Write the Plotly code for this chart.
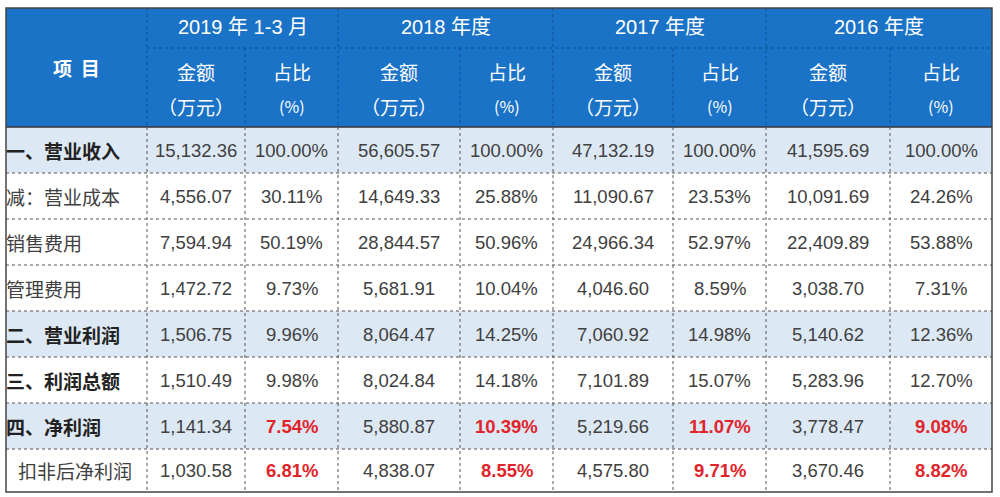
import plotly.graph_objects as go

periods = ["2019 年 1-3 月", "2018 年度", "2017 年度", "2016 年度"]
items = ["一、营业收入", "减：营业成本", "销售费用", "管理费用", "二、营业利润", "三、利润总额", "四、净利润", "扣非后净利润"]
amt_2019q1 = ["15,132.36", "4,556.07", "7,594.94", "1,472.72", "1,506.75", "1,510.49", "1,141.34", "1,030.58"]
pct_2019q1 = ["100.00%", "30.11%", "50.19%", "9.73%", "9.96%", "9.98%", "7.54%", "6.81%"]
amt_2018 = ["56,605.57", "14,649.33", "28,844.57", "5,681.91", "8,064.47", "8,024.84", "5,880.87", "4,838.07"]
pct_2018 = ["100.00%", "25.88%", "50.96%", "10.04%", "14.25%", "14.18%", "10.39%", "8.55%"]
amt_2017 = ["47,132.19", "11,090.67", "24,966.34", "4,046.60", "7,060.92", "7,101.89", "5,219.66", "4,575.80"]
pct_2017 = ["100.00%", "23.53%", "52.97%", "8.59%", "14.98%", "15.07%", "11.07%", "9.71%"]
amt_2016 = ["41,595.69", "10,091.69", "22,409.89", "3,038.70", "5,140.62", "5,283.96", "3,778.47", "3,670.46"]
pct_2016 = ["100.00%", "24.26%", "53.88%", "7.31%", "12.36%", "12.70%", "9.08%", "8.82%"]
bold_rows = [0, 4, 5, 6]
shaded_rows = [0, 4, 6]
red_rows = [6, 7]

# layout (pixels)
col_x = [6, 147, 245, 338, 460, 553, 673, 766, 890, 992]
head_y = [8, 48, 127]
row_h = 46
row_y = [head_y[2] + i * row_h for i in range(len(items) + 1)]
row_y[-1] = 492

BLUE = "#1b73c7"
SHADE = "#dde8f5"
TXT = "#404040"
CJK = "Noto Sans CJK SC"
NUM = "Liberation Sans"

columns = [amt_2019q1, pct_2019q1, amt_2018, pct_2018, amt_2017, pct_2017, amt_2016, pct_2016]

fig = go.Figure()
shapes, ann = [], []

def rect(x0, x1, y0, y1, color):
    shapes.append(dict(type="rect", x0=x0, x1=x1, y0=y0, y1=y1, fillcolor=color, line_width=0, layer="below"))

def line(x0, y0, x1, y1, color, dash="dot", w=1):
    shapes.append(dict(type="line", x0=x0, y0=y0, x1=x1, y1=y1, line=dict(color=color, width=w, dash=dash)))

def text(x, y, s, size=18, color=TXT, bold=False, family=NUM):
    if bold:
        s = "<b>" + s + "</b>"
    ann.append(dict(x=x, y=y, text=s, showarrow=False, font=dict(size=size, color=color, family=family + ", " + CJK)))

# header
rect(col_x[0], col_x[-1], head_y[0], head_y[2], BLUE)
for i in shaded_rows:
    rect(col_x[0], col_x[-1], row_y[i], row_y[i + 1], SHADE)

text((col_x[0] + col_x[1]) / 2, 67, "项  目", 19, "white", True, CJK)
for k, p in enumerate(periods):
    xa, xb, xc = col_x[1 + 2 * k], col_x[2 + 2 * k], col_x[3 + 2 * k]
    text((xa + xc) / 2, 27, p, 20, "white", False, "Liberation Sans")
    text((xa + xb) / 2, 71, "金额", 19, "white", False, CJK)
    text((xa + xb) / 2, 106, "（万元）", 19, "white", False, CJK)
    text((xb + xc) / 2, 71, "占比", 19, "white", False, CJK)
    text((xb + xc) / 2, 106, "(%)", 16, "white", False, CJK)

# body
for i, name in enumerate(items):
    yc = (row_y[i] + row_y[i + 1]) / 2
    ann.append(dict(x=col_x[0] - 2 if i != 7 else col_x[0] + 10, y=yc, xanchor="left", showarrow=False,
                    text=("<b>%s</b>" % name) if i in bold_rows else name,
                    font=dict(size=19, color="#222222" if i in bold_rows else TXT, family=CJK)))
    for c, col in enumerate(columns):
        xc = (col_x[1 + c] + col_x[2 + c]) / 2
        red = (c % 2 == 1) and i in red_rows
        text(xc, yc, col[i], 18.5, "#e0242a" if red else TXT, red)

# grid lines
for y in row_y[1:-1]:
    line(col_x[0], y, col_x[-1], y, "#555555")
line(col_x[0], head_y[2], col_x[-1], head_y[2], "#333333", "solid", 1.5)
line(col_x[1], head_y[1], col_x[-1], head_y[1], "#0d4f8f")
for j, x in enumerate(col_x[1:-1]):
    top = head_y[0] if j % 2 == 0 else head_y[1]
    line(x, top, x, head_y[2], "#0d4f8f")
    line(x, head_y[2], x, row_y[-1], "#555555")
shapes.append(dict(type="rect", x0=col_x[0], x1=col_x[-1], y0=head_y[0], y1=row_y[-1],
                   line=dict(color="#444444", width=1.5)))

fig.update_layout(
    width=1000, height=497, margin=dict(l=0, r=0, t=0, b=0),
    paper_bgcolor="white", plot_bgcolor="white",
    xaxis=dict(range=[0, 1000], visible=False, fixedrange=True),
    yaxis=dict(range=[497, 0], visible=False, fixedrange=True),
    shapes=shapes, annotations=ann, showlegend=False,
)
fig.write_html("out.html", config={"displayModeBar": False},
               post_script="document.body.style.margin='0';")
